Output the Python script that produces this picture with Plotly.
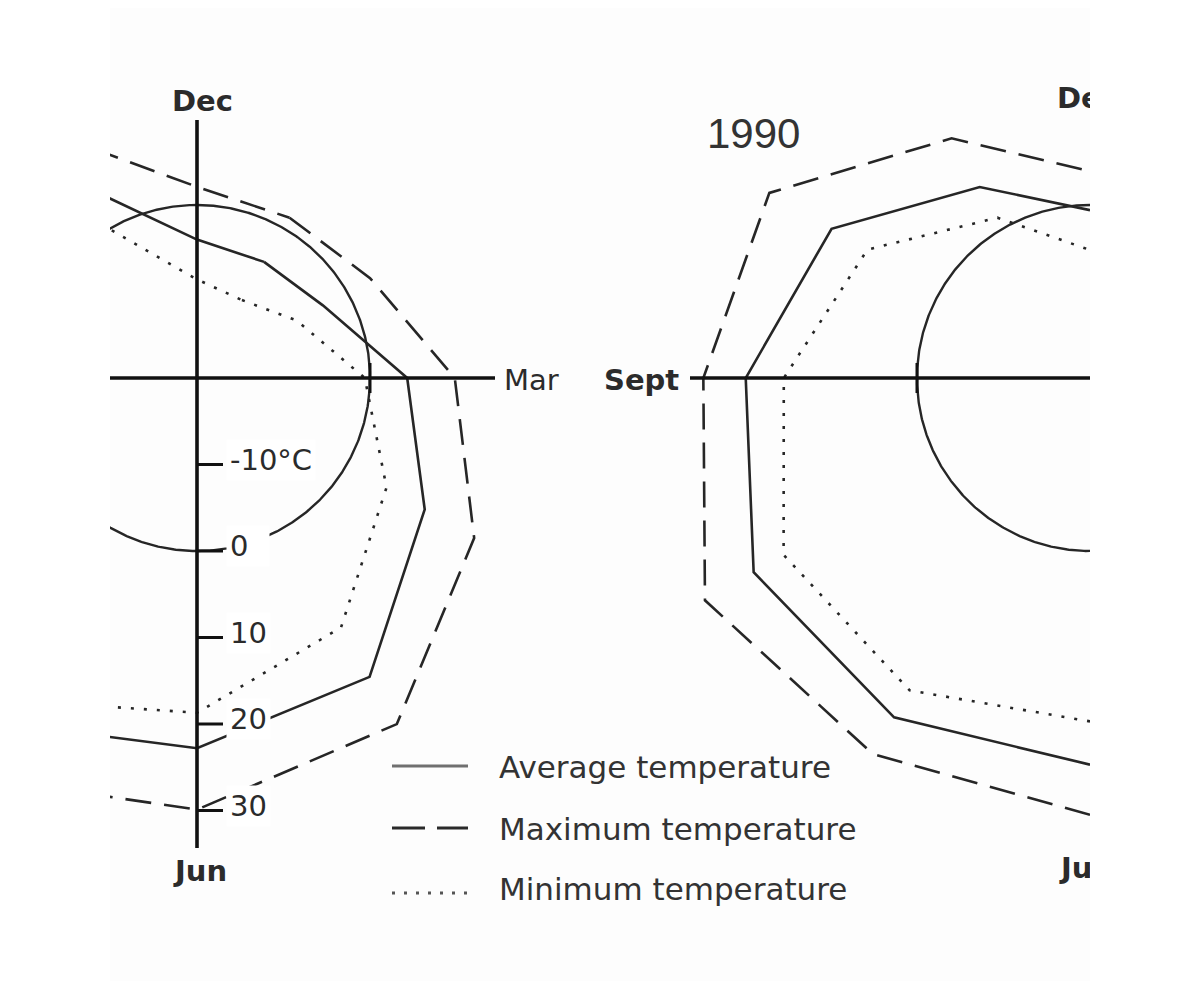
import numpy as np
import plotly.graph_objects as go

# ---------------- data (°C per month; None = month lies outside the picture) ----------------
months = ["Jan", "Feb", "Mar", "Apr", "May", "Jun", "Jul", "Aug", "Sep", "Oct", "Nov", "Dec"]

# left clock (its year label is cropped out of the picture)
left_avg = [-4.5, -3.2, 4.3, 10.4, 19.9, 22.8, 26.0, None, None, None, 5.4, -4.0]
left_max = [1.4, 3.1, 9.8, 17.0, 26.2, 29.9, 33.1, None, None, None, 12.4, 2.1]
left_min = [-9.6, -6.7, -0.6, 5.3, 13.3, 18.7, 23.0, None, None, None, -0.3, -8.6]

# right clock: 1990
y1990_avg = [None, None, None, None, None, 24.7, 25.3, 24.9, 19.8, 14.5, 5.5, -0.6]
y1990_max = [None, None, None, None, None, 30.5, 30.2, 31.4, 24.7, 22.8, 12.0, 3.9]
y1990_min = [None, None, None, None, None, 19.7, 21.7, 20.9, 15.4, 9.7, 1.4, -5.2]

tick_values = [-10, 0, 10, 20, 30]
tick_labels = ["-10°C", "0", "10", "20", "30"]
reference_temp = 0

right_title = "1990"
series_names = ["Average temperature", "Maximum temperature", "Minimum temperature"]

# ---------------- geometry / style ----------------
PAGE_OFF = 8              # the html body margin
W, H = 1200 - PAGE_OFF, 981 - PAGE_OFF
T_CENTER = -20.0          # temperature at the centre of each clock
PX_PER_DEG = 8.65         # radial scale
LEFT_C = (197.0, 378.0)
RIGHT_C = (1090.0, 378.0)
CLIP_L, CLIP_R = 110, 1090
LINE = "#262626"
AXIS = "#111111"
TXT = "#2b2b2b"
FONT = "DejaVu Sans"


def radius(t):
    return (t - T_CENTER) * PX_PER_DEG


def polar_xy(center, values):
    xs, ys = [], []
    for i in list(range(12)) + [0]:
        v = values[i]
        if v is None:
            xs.append(None)
            ys.append(None)
            continue
        a = np.deg2rad(30 * (i + 1))   # Dec at top, clockwise
        r = radius(v)
        xs.append(center[0] + r * np.sin(a))
        ys.append(center[1] - r * np.cos(a))
    return xs, ys


def circle_xy(center, t):
    a = np.linspace(0, 2 * np.pi, 721)
    r = radius(t)
    return center[0] + r * np.sin(a), center[1] - r * np.cos(a)


styles = [
    dict(color=LINE, width=2.6, dash="solid"),
    dict(color=LINE, width=2.6, dash="26px,13px"),
    dict(color=LINE, width=2.6, dash="3px,10px"),
]

fig = go.Figure()

# reference 0 °C circles
for c in (LEFT_C, RIGHT_C):
    cx_, cy_ = circle_xy(c, reference_temp)
    fig.add_trace(go.Scatter(x=cx_, y=cy_, mode="lines", line=dict(color=LINE, width=2.4),
                             hoverinfo="skip", showlegend=False))

# temperature polygons
for center, series in ((LEFT_C, (left_avg, left_max, left_min)),
                       (RIGHT_C, (y1990_avg, y1990_max, y1990_min))):
    for vals, st, name in zip(series, styles, series_names):
        xs, ys = polar_xy(center, vals)
        fig.add_trace(go.Scatter(x=xs, y=ys, mode="lines", line=st, name=name,
                                 connectgaps=False, showlegend=False))

# ticks on the left vertical axis (Jun direction) and at 0 °C on the horizontal axes
tx, ty = [], []
for t in tick_values:
    y = LEFT_C[1] + radius(t)
    tx += [LEFT_C[0], LEFT_C[0] + 26, None]
    ty += [y, y, None]
for c in (LEFT_C, RIGHT_C):
    x = c[0] - radius(reference_temp) if c is RIGHT_C else c[0] + radius(reference_temp)
    tx += [x, x, None]
    ty += [c[1] - 15, c[1] + 15, None]
fig.add_trace(go.Scatter(x=tx, y=ty, mode="lines", line=dict(color=AXIS, width=3),
                         hoverinfo="skip", showlegend=False))

shapes = [
    # left clock axes
    dict(type="line", x0=CLIP_L - 20, x1=495, y0=LEFT_C[1], y1=LEFT_C[1]),
    dict(type="line", x0=LEFT_C[0], x1=LEFT_C[0], y0=120, y1=848),
    # right clock horizontal axis
    dict(type="line", x0=690, x1=CLIP_R + 20, y0=RIGHT_C[1], y1=RIGHT_C[1]),
]
for s in shapes:
    s.update(xref="x", yref="y", layer="above", line=dict(color=AXIS, width=3.6))

# legend samples
leg_y = [766, 828, 893]
leg_cols = ["#707070", "#2a2a2a", "#555555"]
leg_dash = ["solid", "33px,12px", "3px,9px"]
for y, col, d in zip(leg_y, leg_cols, leg_dash):
    shapes.append(dict(type="line", xref="x", yref="y", x0=392, x1=468, y0=y, y1=y,
                       line=dict(color=col, width=3, dash=d)))

annotations = []
# tick labels with white background (they interrupt the curves)
for t, lab in zip(tick_values, tick_labels):
    ann = dict(x=LEFT_C[0] + 29, y=LEFT_C[1] + radius(t) - 5, text=lab,
               xanchor="left", yanchor="middle", showarrow=False,
               bgcolor="white", borderpad=3, align="left",
               font=dict(family=FONT, size=29, color=TXT))
    if len(lab) == 1:
        ann["width"] = 36
    annotations.append(ann)
# month labels of the left clock
annotations += [
    dict(x=202, y=101, text="Dec", font=dict(family=FONT, size=29, color=TXT, weight="bold")),
    dict(x=200, y=871, text="Jun", font=dict(family=FONT, size=29, color=TXT, weight="bold")),
    dict(x=502, y=380, text="Mar", xanchor="left", font=dict(family=FONT, size=29, color=TXT)),
    dict(x=681, y=380, text="Sept", xanchor="right",
         font=dict(family=FONT, size=29, color=TXT, weight="bold")),
    dict(x=753, y=133, text=right_title,
         font=dict(family="Liberation Sans", size=42, color="#333333")),
]
for y, name in zip([767, 829, 889], series_names):
    annotations.append(dict(x=497, y=y, text=name, xanchor="left",
                            font=dict(family=FONT, size=31, color="#333333")))
for a in annotations:
    a.setdefault("showarrow", False)
    a.setdefault("xref", "x")
    a.setdefault("yref", "y")

# right clock's month labels are cut by the picture edge -> clipped text trace
fig.add_trace(go.Scatter(x=[1057, 1061], y=[101, 871], mode="text", text=["Dec", "Jun"],
                         textposition="middle right", cliponaxis=True,
                         textfont=dict(family=FONT, size=29, color=TXT, weight="bold"),
                         hoverinfo="skip", showlegend=False))

fig.update_layout(
    width=W, height=H,
    margin=dict(l=CLIP_L - PAGE_OFF, r=W - (CLIP_R - PAGE_OFF), t=0, b=0, pad=0),
    paper_bgcolor="white", plot_bgcolor="#fdfdfd",
    xaxis=dict(range=[CLIP_L, CLIP_R], visible=False, fixedrange=True),
    yaxis=dict(range=[H + PAGE_OFF, PAGE_OFF], visible=False, fixedrange=True),
    shapes=shapes, annotations=annotations, showlegend=False,
)

fig.write_html("out.html")
